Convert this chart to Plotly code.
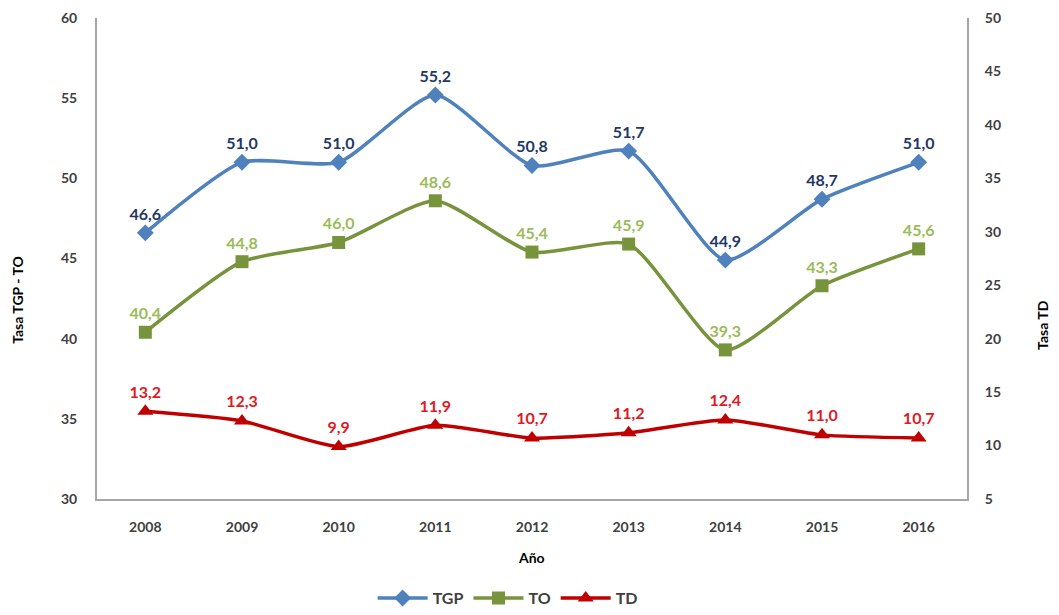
import plotly.graph_objs as go

years = ["2008", "2009", "2010", "2011", "2012", "2013", "2014", "2015", "2016"]
tgp = [46.6, 51.0, 51.0, 55.2, 50.8, 51.7, 44.9, 48.7, 51.0]
to = [40.4, 44.8, 46.0, 48.6, 45.4, 45.9, 39.3, 43.3, 45.6]
td = [13.2, 12.3, 9.9, 11.9, 10.7, 11.2, 12.4, 11.0, 10.7]


def fmt(vals):
    return [f"{v:.1f}".replace(".", ",") for v in vals]


font = "Lato"
fig = go.Figure()

fig.add_trace(
    go.Scatter(
        x=years, y=tgp, name="TGP", mode="lines+markers+text",
        line={"color": "#4F81BD", "width": 3.5, "shape": "spline", "smoothing": 0.6},
        marker={"symbol": "diamond", "size": 13, "color": "#4F81BD"},
        text=fmt(tgp), textposition="top center",
        textfont={"family": font, "size": 16, "color": "#1F3864", "weight": "bold"},
    )
)
fig.add_trace(
    go.Scatter(
        x=years, y=to, name="TO", mode="lines+markers+text",
        line={"color": "#77933C", "width": 3.5, "shape": "spline", "smoothing": 0.6},
        marker={"symbol": "square", "size": 13, "color": "#77933C"},
        text=fmt(to), textposition="top center",
        textfont={"family": font, "size": 16, "color": "#9BBB59", "weight": "bold"},
    )
)
fig.add_trace(
    go.Scatter(
        x=years, y=td, name="TD", mode="lines+markers+text", yaxis="y2",
        line={"color": "#C00000", "width": 3.5, "shape": "spline", "smoothing": 0.6},
        marker={"symbol": "triangle-up", "size": 14, "color": "#C00000"},
        text=fmt(td), textposition="top center",
        textfont={"family": font, "size": 16, "color": "#E0191F", "weight": "bold"},
    )
)

tickfont = {"family": font, "size": 14, "color": "#404040", "weight": "bold"}
titlefont = {"family": font, "size": 14, "color": "#000000", "weight": "bold"}

fig.update_layout(
    width=1043,
    height=599,
    margin={"l": 89, "r": 84, "t": 10, "b": 108, "autoexpand": False},
    plot_bgcolor="white",
    paper_bgcolor="white",
    showlegend=True,
    legend={
        "orientation": "h", "x": 0.472, "xanchor": "center", "y": -0.206, "yanchor": "middle",
        "itemwidth": 50,
        "font": {"family": font, "size": 16, "color": "#404040", "weight": "bold"},
    },
    xaxis={
        "type": "category", "range": [-0.5, 8.5], "automargin": False,
        "showline": True, "linecolor": "#A6A6A6", "linewidth": 2,
        "showgrid": False, "ticks": "", "tickfont": tickfont,
        "ticklabelstandoff": 14,
    },
    yaxis={
        "range": [30, 60], "dtick": 5, "automargin": False,
        "showline": True, "linecolor": "#A6A6A6", "linewidth": 2,
        "showgrid": False, "zeroline": False, "ticks": "", "tickfont": tickfont,
        "ticklabelstandoff": 15,
    },
    yaxis2={
        "range": [5, 50], "dtick": 5, "overlaying": "y", "side": "right", "automargin": False,
        "showline": True, "linecolor": "#A6A6A6", "linewidth": 2,
        "showgrid": False, "zeroline": False, "ticks": "", "tickfont": tickfont,
        "ticklabelstandoff": 13,
    },
    annotations=[
        {"text": "Año", "xref": "paper", "yref": "paper", "x": 0.499, "y": -0.1206,
         "yanchor": "middle", "showarrow": False, "font": titlefont},
        {"text": "Tasa TGP - TO", "xref": "paper", "yref": "paper", "x": -0.0908,
         "y": 0.414, "xanchor": "center", "yanchor": "middle", "textangle": -90,
         "showarrow": False, "font": titlefont},
        {"text": "Tasa TD", "xref": "paper", "yref": "paper", "x": 1.0874,
         "y": 0.362, "xanchor": "center", "yanchor": "middle", "textangle": -90,
         "showarrow": False, "font": titlefont},
    ],
)

fig.write_html("out.html")
